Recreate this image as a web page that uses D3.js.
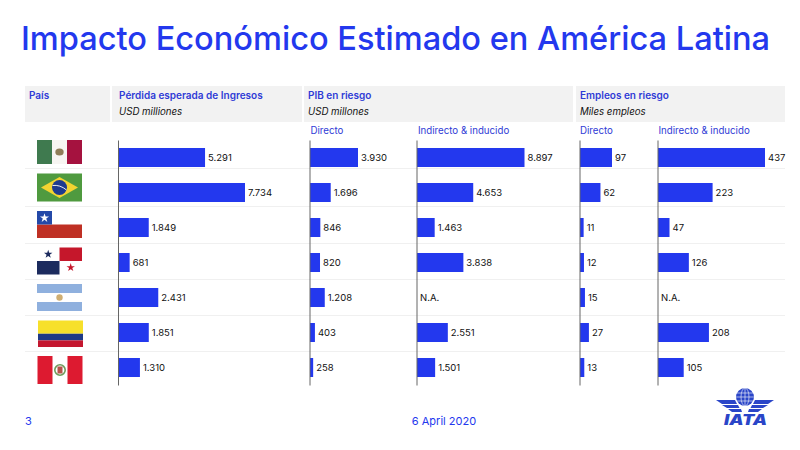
<!DOCTYPE html>
<html><head><meta charset="utf-8">
<script src="https://cdn.jsdelivr.net/npm/d3@7/dist/d3.min.js"></script>
<style>html,body{margin:0;padding:0;background:#fff}svg{display:block}text{font-family:Inter,"Noto Sans",sans-serif}</style>
</head><body><svg id="c" width="800" height="450"></svg>
<script>
const countries = ["México","Brasil","Chile","Panamá","Argentina","Colombia","Perú"];
const perdida = [5291,7734,1849,681,2431,1851,1310];
const pibDirecto = [3930,1696,846,820,1208,403,258];
const pibIndirecto = [8897,4653,1463,3838,null,2551,1501];
const empDirecto = [97,62,11,12,15,27,13];
const empIndirecto = [437,223,47,126,null,208,105];
const title = "Impacto Económico Estimado en América Latina";
const footerPage = "3";
const footerDate = "6 April 2020";
const subLabels = ["Directo","Indirecto & inducido"];

const BLUE="#2338ee", TXT="#2f3bd6", LOGO="#2a45c8";
const svg=d3.select("#c");
const fmt=d3.formatLocale({decimal:",",thousands:".",grouping:[3],currency:["",""]}).format(",d");

svg.append("text").attr("x",21).attr("y",50).attr("font-size",33).attr("font-weight",500)
  .attr("fill",BLUE).attr("textLength",749).attr("lengthAdjust","spacingAndGlyphs").text(title);

// header blocks
const heads=[
 {x:25,w:85,t:"País",tx:29},
 {x:112,w:190,t:"Pérdida esperada de Ingresos",s:"USD milliones",tx:119},
 {x:304,w:269,t:"PIB en riesgo",s:"USD millones",tx:308},
 {x:576,w:209,t:"Empleos en riesgo",s:"Miles empleos",tx:580}];
heads.forEach(h=>{
  svg.append("rect").attr("x",h.x).attr("y",86).attr("width",h.w).attr("height",36).attr("fill","#f2f2f2");
  svg.append("text").attr("x",h.tx).attr("y",99).attr("font-size",10).attr("font-weight",600).attr("fill",TXT).text(h.t);
  if(h.s) svg.append("text").attr("x",h.tx).attr("y",114.5).attr("font-size",9.7).attr("font-style","italic").attr("fill","#111").text(h.s);
});
[[310.5,0],[418,1],[580,0],[658.5,1]].forEach(([x,i])=>
  svg.append("text").attr("x",x).attr("y",134).attr("font-size",9.7).attr("fill",TXT).text(subLabels[i]));

// row separators
[168,206,243,279,315,351].forEach(y=>svg.append("line").attr("x1",25).attr("x2",785).attr("y1",y+.5).attr("y2",y+.5)
  .attr("stroke","#ececec").attr("stroke-width",.8));

const y=d3.scaleBand().domain(countries).range([140,385]).paddingInner(.457).paddingOuter(.2285);
const panels=[
 {x0:118.5,vals:perdida,max:7734,px:126.5},
 {x0:310,vals:pibDirecto,max:3930,px:48},
 {x0:417,vals:pibIndirecto,max:8897,px:107.5},
 {x0:580,vals:empDirecto,max:97,px:32},
 {x0:658,vals:empIndirecto,max:437,px:107}];
panels.forEach(p=>{
  const x=d3.scaleLinear().domain([0,p.max]).range([p.x0,p.x0+p.px]);
  const g=svg.append("g");
  g.selectAll("rect").data(p.vals.map((v,i)=>({v,c:countries[i]})).filter(d=>d.v!==null)).join("rect")
   .attr("x",x(0)).attr("y",d=>y(d.c)).attr("width",d=>x(d.v)-x(0)).attr("height",y.bandwidth()).attr("fill",BLUE);
  g.selectAll("text.v").data(p.vals.map((v,i)=>({v,c:countries[i]}))).join("text").attr("class","v")
   .attr("x",d=>(d.v===null?x(0)+3:x(d.v)+3)).attr("y",d=>y(d.c)+y.bandwidth()/2+3.3)
   .attr("font-size",9.5).attr("fill","#111").text(d=>d.v===null?"N.A.":fmt(d.v));
  const ax=svg.append("g").attr("transform",`translate(${p.x0-.5},0)`).call(d3.axisLeft(y).tickSize(0).tickFormat(""));
  ax.select(".domain").attr("stroke","#666").attr("stroke-width",1);
});

// flags
const flag=(x,yy,w,h)=>{const g=svg.append("g").attr("transform",`translate(${x},${yy})`);
 g.r=(a,b,c,d,f)=>{g.append("rect").attr("x",a*w).attr("y",b*h).attr("width",c*w).attr("height",d*h).attr("fill",f);return g;};return g;};
const star=d3.symbol().type(d3.symbolStar);
let f=flag(37,140,45,24);
f.r(0,0,1/3,1,"#3f7a4f").r(1/3,0,1/3,1,"#f7f5f2").r(2/3,0,1/3,1,"#a5123f");
f.append("ellipse").attr("cx",22.5).attr("cy",12).attr("rx",4.2).attr("ry",3.6).attr("fill","#8f7d58");
f=flag(37,173.5,45,28);
f.r(0,0,1,1,"#4f9a3f");
f.append("polygon").attr("points","4,14 22.5,3.5 41,14 22.5,24.5").attr("fill","#f2d431");
f.append("circle").attr("cx",22.5).attr("cy",14).attr("r",7.5).attr("fill","#1d3a8f");
f.append("path").attr("d","M15.5,12 Q23,11 29.5,16.5").attr("stroke","#eee").attr("stroke-width",1).attr("fill","none");
f=flag(37,211,45,27);
f.r(0,0,1,1,"#fff").r(0,.5,1,.5,"#bf3024").r(0,0,1/3,.5,"#2449a8");
f.append("path").attr("d",star.size(26)()).attr("transform","translate(7.5,7)").attr("fill","#fff");
f=flag(37,247.5,45,27);
f.r(.5,0,.5,.5,"#c5172b").r(0,.5,.5,.5,"#1c2b5e");
f.append("path").attr("d",star.size(22)()).attr("transform","translate(11.2,6.7)").attr("fill","#1c2b5e");
f.append("path").attr("d",star.size(22)()).attr("transform","translate(33.7,20)").attr("fill","#c5172b");
f=flag(37,284,45,27);
f.r(0,0,1,1,"#fff").r(0,0,1,1/3,"#8fb0de").r(0,2/3,1,1/3,"#8fb0de");
f.append("circle").attr("cx",22.5).attr("cy",13.5).attr("r",3.2).attr("fill","#cfae72");
f=flag(38,320.5,45,26.5);
f.r(0,0,1,.5,"#f7e02b").r(0,.5,1,.25,"#1f3a86").r(0,.75,1,.25,"#c4172f");
f=flag(37.5,356,45,28);
f.r(0,0,1,1,"#fff").r(0,0,1/3,1,"#dd1a30").r(2/3,0,1/3,1,"#dd1a30");
f.append("circle").attr("cx",22.5).attr("cy",14).attr("r",5.2).attr("fill","none").attr("stroke","#6f9a5a").attr("stroke-width",1.6);
f.append("rect").attr("x",20).attr("y",10.5).attr("width",5).attr("height",7).attr("fill","#b5534a");

// footer
svg.append("text").attr("x",25).attr("y",425).attr("font-size",11).attr("fill",BLUE).text(footerPage);
svg.append("text").attr("x",444).attr("y",425).attr("font-size",11).attr("text-anchor","middle").attr("fill",BLUE).text(footerDate);

// IATA logo
const L=svg.append("g").attr("fill",LOGO);
L.append("circle").attr("cx",745).attr("cy",397).attr("r",9).attr("fill",LOGO);
L.append("ellipse").attr("cx",745).attr("cy",397).attr("rx",4).attr("ry",9).attr("fill","none").attr("stroke","#fff").attr("stroke-width",.6);
L.append("line").attr("x1",745).attr("x2",745).attr("y1",388).attr("y2",406).attr("stroke","#fff").attr("stroke-width",.6);
[393,397,401].forEach(yy=>L.append("line").attr("x1",736).attr("x2",754).attr("y1",yy).attr("y2",yy).attr("stroke","#fff").attr("stroke-width",.6));
[[716,400,735,400,737,404,722,404],[722,405,738,405,739.5,408,727,408],[728,409,741,409,742,412,732,412]].forEach(a=>{
  const p=[[a[0],a[1]],[a[2],a[3]],[a[4],a[5]],[a[6],a[7]]];
  L.append("polygon").attr("points",p.join(" "));
  L.append("polygon").attr("points",p.map(q=>[1490-q[0],q[1]]).join(" "));
});
svg.append("text").attr("x",724).attr("y",424.5).attr("font-size",14)
  .attr("font-weight",900).attr("font-style","italic").attr("fill",LOGO).attr("textLength",43).attr("lengthAdjust","spacingAndGlyphs").text("IATA");
</script></body></html>
